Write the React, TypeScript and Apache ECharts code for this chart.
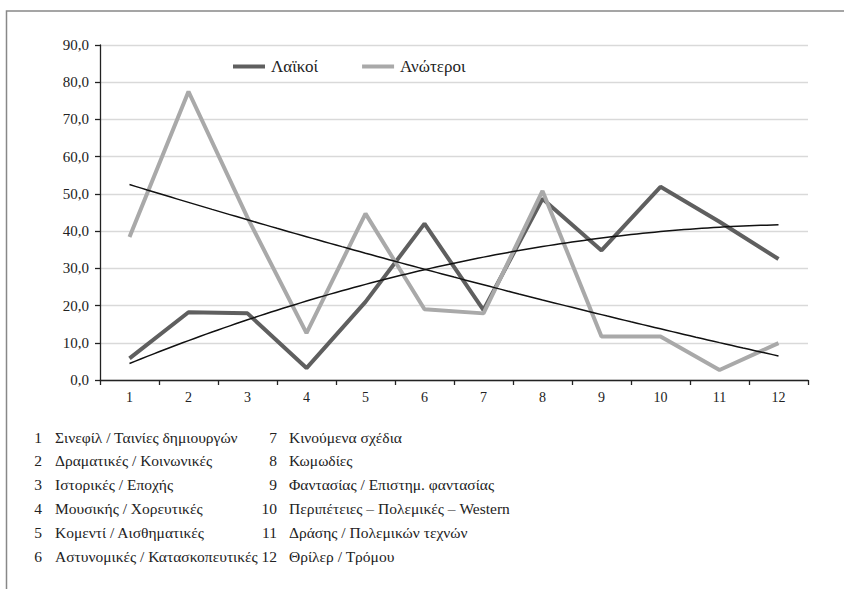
import React, { useEffect, useRef } from "react";
import * as echarts from "echarts";

const categories = ["1", "2", "3", "4", "5", "6", "7", "8", "9", "10", "11", "12"];
const laikoi = [5.8, 18.2, 17.9, 3.2, 21.0, 42.0, 18.8, 48.7, 34.8, 51.9, 42.5, 32.5];
const anoteroi = [38.4, 77.5, 43.6, 12.6, 44.7, 19.0, 17.9, 50.8, 11.7, 11.7, 2.7, 9.9];
const genreNames = [
  "Σινεφίλ / Ταινίες δημιουργών",
  "Δραματικές / Κοινωνικές",
  "Ιστορικές / Εποχής",
  "Μουσικής / Χορευτικές",
  "Κομεντί / Αισθηματικές",
  "Αστυνομικές / Κατασκοπευτικές",
  "Κινούμενα σχέδια",
  "Κωμωδίες",
  "Φαντασίας / Επιστημ. φαντασίας",
  "Περιπέτειες – Πολεμικές – Western",
  "Δράσης / Πολεμικών τεχνών",
  "Θρίλερ / Τρόμου",
];
const yTicks = [0, 10, 20, 30, 40, 50, 60, 70, 80, 90];

// least-squares polynomial (order 2) trend line from a series
function quadFit(ys: number[]) {
  const n = ys.length;
  let s0 = 0, s1 = 0, s2 = 0, s3 = 0, s4 = 0, t0 = 0, t1 = 0, t2 = 0;
  ys.forEach((y, i) => {
    const x = i + 1;
    s0 += 1; s1 += x; s2 += x * x; s3 += x ** 3; s4 += x ** 4;
    t0 += y; t1 += x * y; t2 += x * x * y;
  });
  const M = [[s0, s1, s2, t0], [s1, s2, s3, t1], [s2, s3, s4, t2]];
  for (let c = 0; c < 3; c++) {
    for (let r = c + 1; r < 3; r++) {
      const f = M[r][c] / M[c][c];
      for (let k = c; k < 4; k++) M[r][k] -= f * M[c][k];
    }
  }
  const coef = [0, 0, 0];
  for (let r = 2; r >= 0; r--) {
    let s = M[r][3];
    for (let k = r + 1; k < 3; k++) s -= M[r][k] * coef[k];
    coef[r] = s / M[r][r];
  }
  const pts: number[][] = [];
  for (let x = 1; x <= n + 1e-9; x += 0.1) {
    pts.push([x, coef[0] + coef[1] * x + coef[2] * x * x]);
  }
  return pts;
}

export default function App() {
  const ref = useRef<HTMLDivElement>(null);
  useEffect(() => {
    document.body.style.margin = "0";
    const chart = echarts.init(ref.current!, null, { renderer: "svg" });
    const font = "Liberation Serif";
    const listTexts: any[] = [];
    genreNames.forEach((name, i) => {
      const col = i < 6 ? 0 : 1;
      const row = i % 6;
      const y = 437 + row * 23.8;
      listTexts.push({
        type: "text",
        x: col === 0 ? 42 : 277,
        y,
        style: { text: String(i + 1), fontFamily: font, fontSize: 15.5, fill: "#222", align: "right", verticalAlign: "middle" },
      });
      listTexts.push({
        type: "text",
        x: col === 0 ? 55 : 289,
        y,
        style: { text: name, fontFamily: font, fontSize: 15.5, fill: "#222", align: "left", verticalAlign: "middle" },
      });
    });
    chart.setOption({
      animation: false,
      backgroundColor: "#fff",
      textStyle: { fontFamily: font },
      grid: { left: 100, right: 36, top: 45, bottom: 209, containLabel: false },
      legend: {
        data: ["Λαϊκοί", "Ανώτεροι"],
        left: 228,
        top: 53,
        icon: "rect",
        itemWidth: 32,
        itemHeight: 4,
        itemGap: 44,
        textStyle: { fontFamily: font, fontSize: 17, color: "#222", padding: [0, 0, 0, 1] },
      },
      xAxis: [
        {
          type: "category",
          data: categories,
          boundaryGap: true,
          axisLine: { lineStyle: { color: "#222", width: 1.3 } },
          axisTick: { show: true, length: 5, lineStyle: { color: "#222", width: 1.3 } },
          axisLabel: { fontFamily: font, fontSize: 14, color: "#222", margin: 10 },
        },
        { type: "value", min: 0.5, max: 12.5, show: false },
      ],
      yAxis: {
        type: "value",
        min: 0,
        max: 90,
        interval: 10,
        axisLine: { show: true, lineStyle: { color: "#222", width: 1.3 } },
        axisTick: { show: true, length: 5, lineStyle: { color: "#222", width: 1.3 } },
        axisLabel: {
          fontFamily: font,
          fontSize: 15,
          color: "#222",
          margin: 11,
          formatter: (v: number) => (yTicks.includes(v) ? v.toFixed(1).replace(".", ",") : ""),
        },
        splitLine: { lineStyle: { color: "#d9d9d9", width: 1.3 } },
      },
      series: [
        {
          name: "Λαϊκοί",
          type: "line",
          data: laikoi,
          symbol: "none",
          lineStyle: { color: "#5f5f5f", width: 4 },
          itemStyle: { color: "#5f5f5f" },
        },
        {
          name: "Ανώτεροι",
          type: "line",
          data: anoteroi,
          symbol: "none",
          lineStyle: { color: "#a9a9a9", width: 4 },
          itemStyle: { color: "#a9a9a9" },
        },
        {
          name: "trend1",
          type: "line",
          xAxisIndex: 1,
          data: quadFit(laikoi),
          symbol: "none",
          silent: true,
          lineStyle: { color: "#111", width: 1.5 },
        },
        {
          name: "trend2",
          type: "line",
          xAxisIndex: 1,
          data: quadFit(anoteroi),
          symbol: "none",
          silent: true,
          lineStyle: { color: "#111", width: 1.5 },
        },
      ],
      graphic: [
        {
          type: "rect",
          shape: { x: 6.5, y: 11, width: 900, height: 700 },
          style: { fill: "none", stroke: "#888", lineWidth: 1.5 },
          silent: true,
        },
        ...listTexts,
      ],
    });
    return () => chart.dispose();
  }, []);
  return <div ref={ref} style={{ width: 844, height: 589 }} />;
}
